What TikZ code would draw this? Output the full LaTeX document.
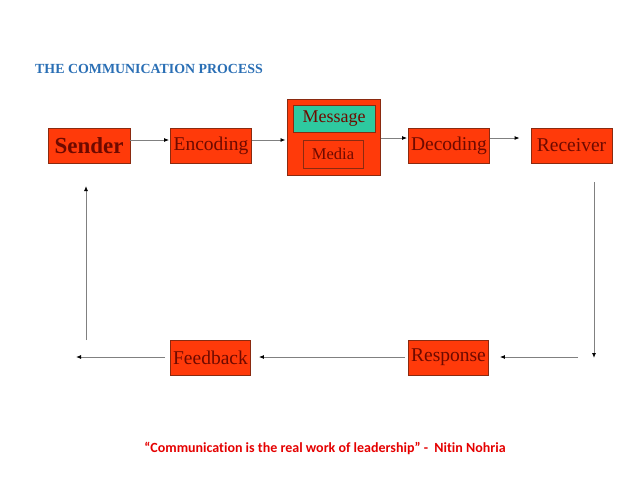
\documentclass[tikz,border=0pt]{standalone}
\usepackage{fontspec}
\setmainfont{Liberation Serif}
\newfontfamily\quotefont[Ligatures=NoCommon]{Carlito}
\usetikzlibrary{arrows.meta}
\definecolor{boxred}{HTML}{FF3A0A}
\definecolor{boxedge}{HTML}{8A2A10}
\definecolor{boxtext}{HTML}{6E0A00}
\definecolor{msgteal}{HTML}{2EC9A0}
\definecolor{titleblue}{HTML}{2A6FB5}
\definecolor{quotered}{HTML}{E50000}
\definecolor{arrowgray}{HTML}{808080}
\tikzset{
  stagebox/.style={draw=boxedge, line width=0.8pt, fill=boxred, text=boxtext,
    minimum width=81pt, minimum height=35pt, inner sep=0pt,
    font=\fontsize{19.5}{19.5}\selectfont},
  flow/.style={draw=arrowgray, line width=0.9pt, -{Latex[length=5pt,width=4pt,black]}}
}
\begin{document}
\begin{tikzpicture}[x=1pt,y=-1pt]
\useasboundingbox (0,0) rectangle (638,479);
\fill[white] (0,0) rectangle (638,479);
\node[anchor=base west, text=titleblue, font=\fontsize{13.9}{14}\selectfont\bfseries, inner sep=0pt] (title) at (35,73) {THE COMMUNICATION PROCESS};

\node[stagebox, minimum width=82pt, font=\fontsize{23}{23}\selectfont\bfseries] (sender) at (89,145.5) {Sender};
\node[stagebox] (encoding) at (211,145.5) {Encoding};
\node[stagebox, minimum width=93pt, minimum height=76pt, line width=1pt] (outer) at (333.5,137) {};
\node[stagebox, fill=msgteal, minimum width=82pt, minimum height=27pt, font=\fontsize{18}{18}\selectfont] (message) at (334,118.5) {Message};
\node[stagebox, minimum width=60pt, minimum height=28pt, line width=0.6pt, font=\fontsize{16.5}{16.5}\selectfont] (media) at (333,154) {Media};
\node[stagebox] (decoding) at (449,145.5) {Decoding};
\node[stagebox] (receiver) at (571.5,145.5) {Receiver};
\node[stagebox, minimum width=80pt] (response) at (448.5,357.5) {Response};
\node[stagebox, minimum width=80pt] (feedback) at (210.5,357.5) {Feedback};

\coordinate (rtop) at (594,182);
\coordinate (rbot) at (594,358);
\coordinate (rstart) at (578,357);
\coordinate (lend) at (76,357);
\coordinate (lbot) at (86,340);
\coordinate (ltop) at (86,186);

\draw[flow] ([yshift=5.5pt]sender.east) -- ([yshift=5.5pt,xshift=-1pt]encoding.west);
\draw[flow] ([yshift=5.5pt]encoding.east) -- ([yshift=-3pt,xshift=-1pt]outer.west);
\draw[flow] ([yshift=-1pt]outer.east) -- ([yshift=7.5pt,xshift=-1pt]decoding.west);
\draw[flow] ([yshift=7.5pt]decoding.east) -- ([yshift=7.5pt,xshift=-11pt]receiver.west);
\draw[flow] (rtop) -- (rbot);
\draw[flow] (rstart) -- ([xshift=11pt,yshift=0.5pt]response.east);
\draw[flow] ([xshift=-3pt,yshift=0.5pt]response.west) -- ([xshift=8pt,yshift=0.5pt]feedback.east);
\draw[flow] ([xshift=-5pt,yshift=0.5pt]feedback.west) -- (lend);
\draw[flow] (lbot) -- (ltop);

\node[anchor=base, text=quotered, font=\quotefont\bfseries\fontsize{14}{14}\selectfont, inner sep=0pt] (quote) at (325,452) {“Communication is the real work of leadership” -\ \ Nitin Nohria};
\end{tikzpicture}
\end{document}
